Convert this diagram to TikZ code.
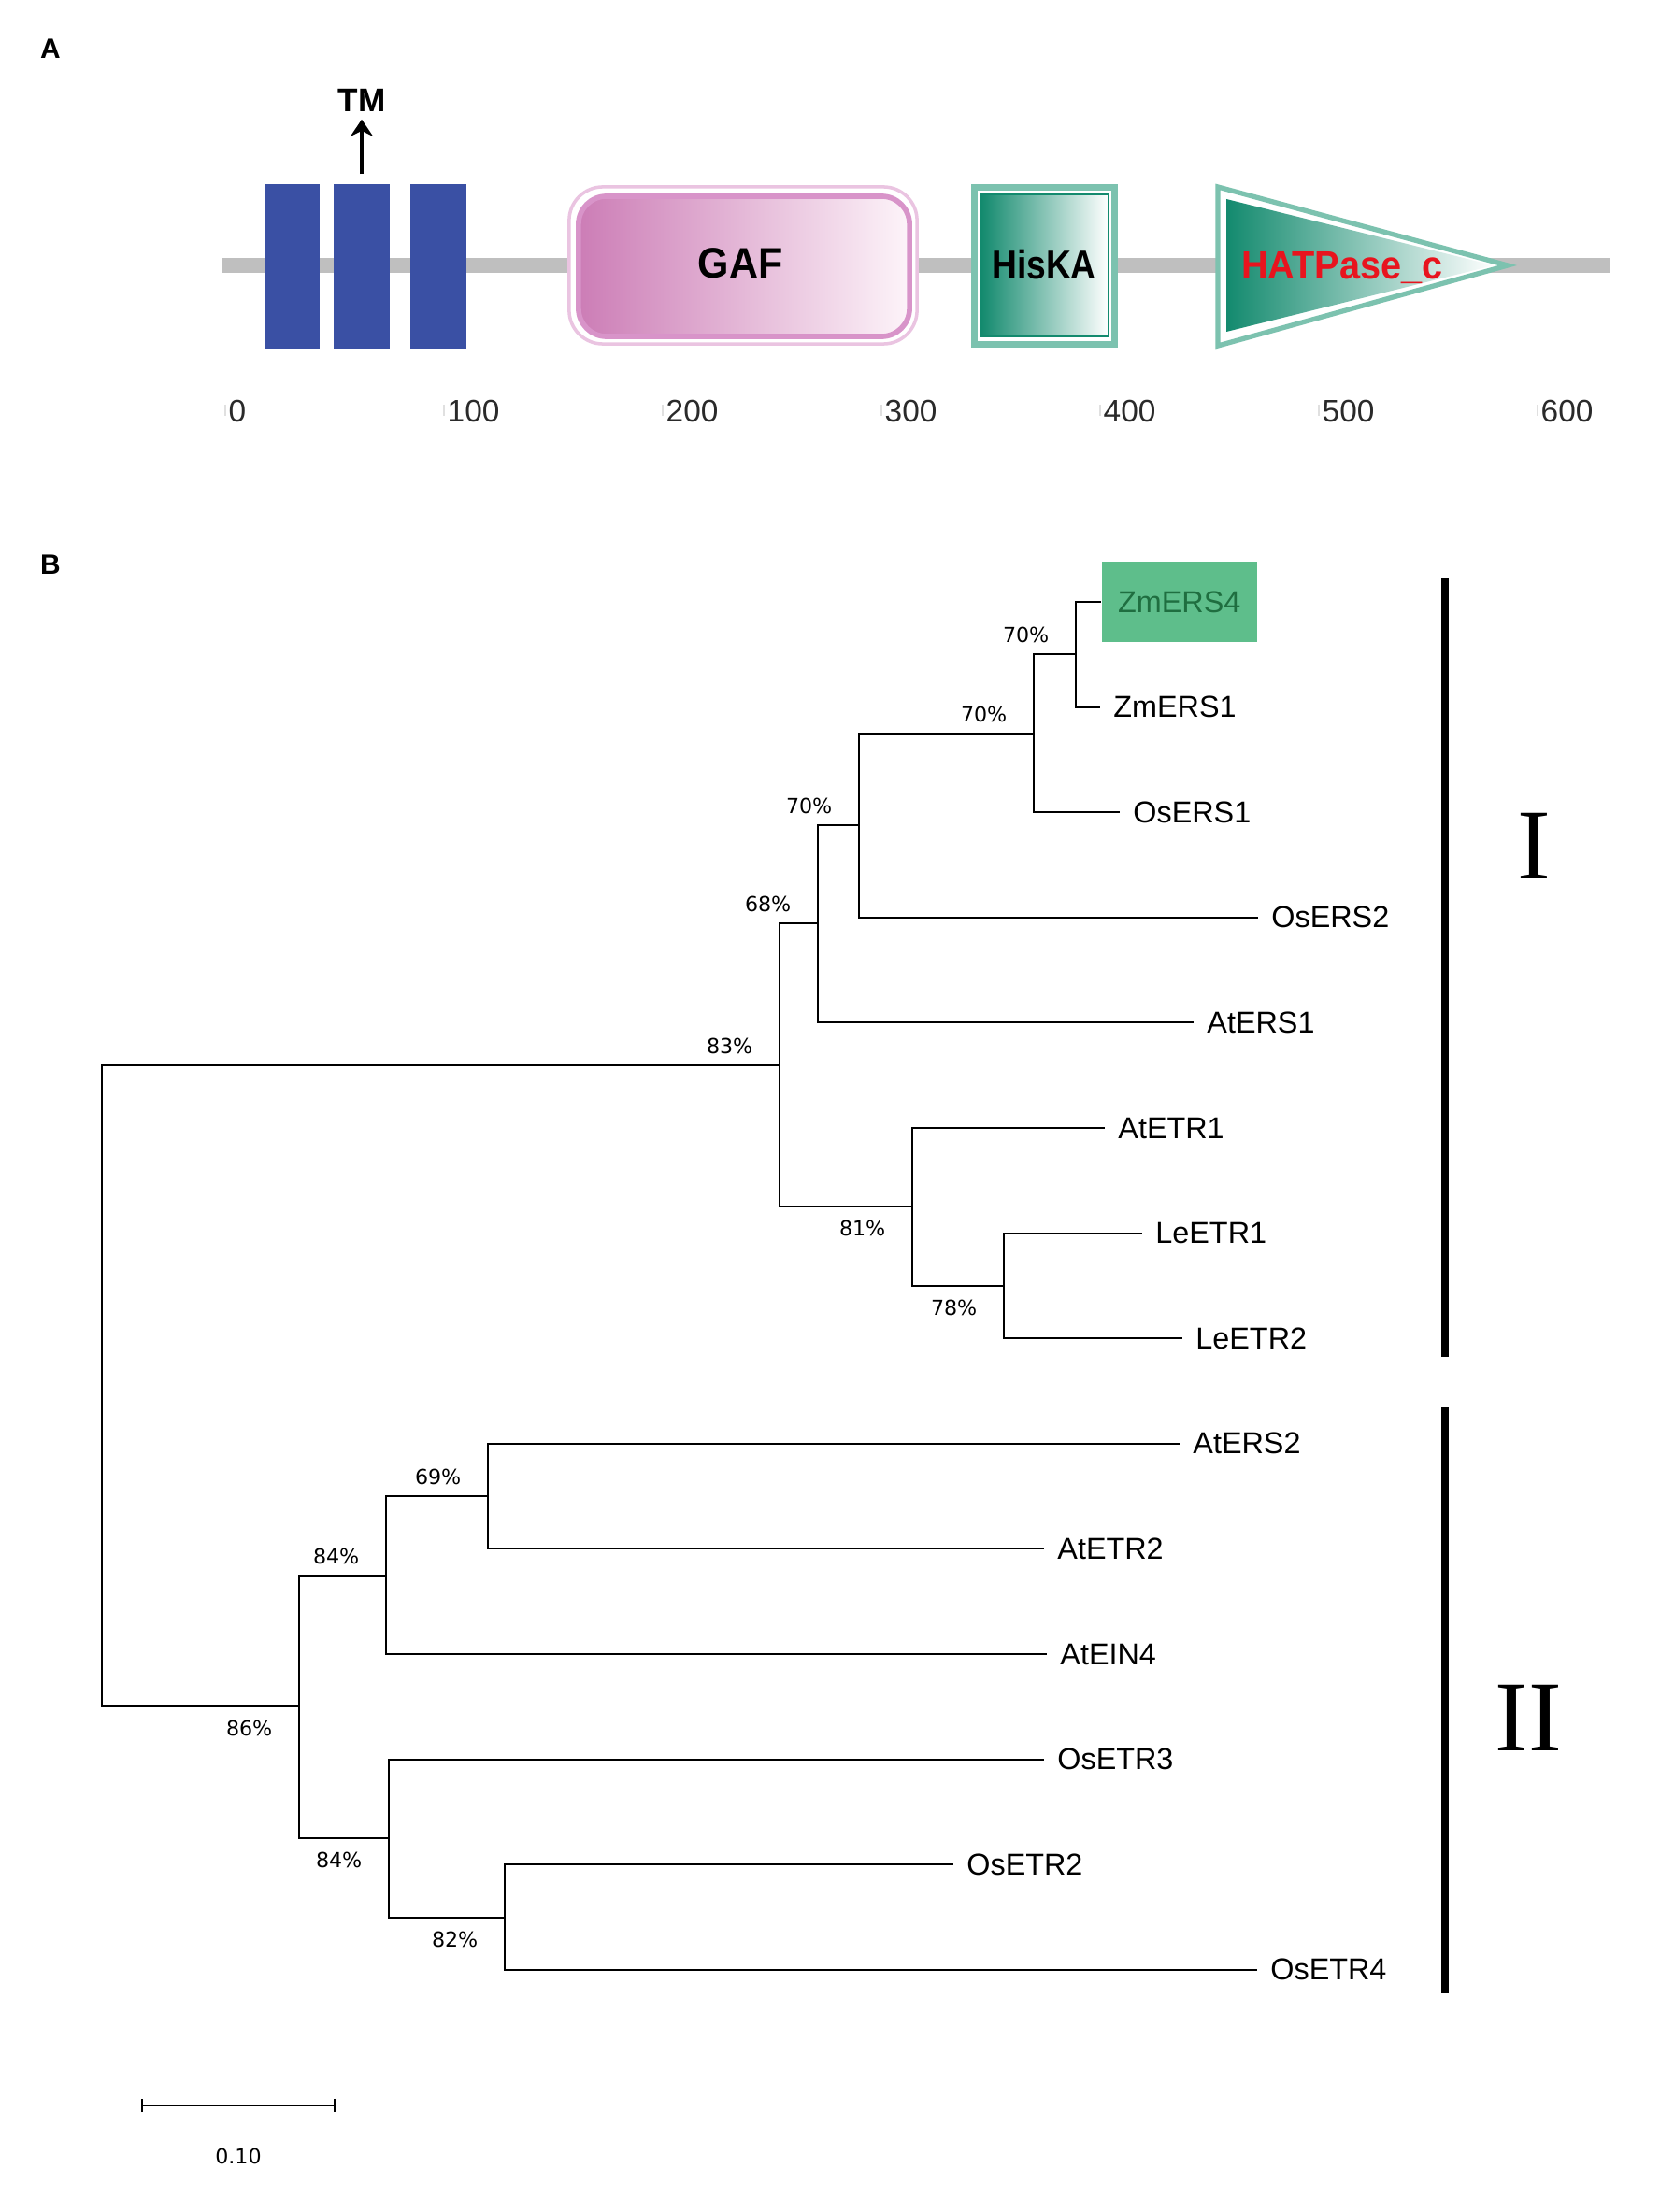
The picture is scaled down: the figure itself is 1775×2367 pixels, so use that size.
\documentclass[tikz,border=0pt]{standalone}
\usepackage{fontspec}
\setmainfont{Liberation Sans}
\newfontfamily\bootfont{DejaVu Sans}
\newfontfamily\roemfont{Liberation Serif}
\usepackage{tikz}
\usetikzlibrary{arrows.meta,positioning}
\definecolor{tmblau}{HTML}{3A50A4}
\definecolor{rueck}{HTML}{BFBFBF}
\definecolor{gafrand}{HTML}{D894C9}
\definecolor{gafdunkel}{HTML}{CC7DB6}
\definecolor{gafhell}{HTML}{FDF4F9}
\definecolor{tuerkis}{HTML}{138A6E}
\definecolor{tuerkisl}{HTML}{7CC2AF}
\definecolor{hatrot}{HTML}{E8141E}
\definecolor{gruenbox}{HTML}{5EBE8B}
\definecolor{gruentext}{HTML}{1F6E40}
\definecolor{zahl}{HTML}{2A2A2A}
\tikzset{
  panel/.style={font=\fontsize{8.5}{10}\selectfont\bfseries,inner sep=0pt},
  rueckgrat/.style={rueck,line width=4.55pt},
  tmbox/.style={fill=tmblau,minimum width=0.59cm,minimum height=1.76cm,inner sep=0pt},
  tmlab/.style={font=\fontsize{10}{12}\selectfont\bfseries,inner sep=0pt},
  pfeil/.style={-{Stealth[length=1.8mm,width=2.4mm]},line width=0.9pt,shorten <=0.1cm,shorten >=0.08cm},
  domtext/.style={font=\fontsize{13}{15}\selectfont\bfseries,inner sep=0pt},
  skala/.style={font=\fontsize{9.5}{11}\selectfont,text=zahl,anchor=west,inner sep=0pt},
  strich/.style={black!12,line width=0.5pt},
  ast/.style={line width=0.6pt,line join=miter},
  blatt/.style={font=\fontsize{9.2}{11}\selectfont,anchor=west,inner xsep=3.9pt,inner ysep=0pt},
  markiert/.style={font=\fontsize{9.2}{11}\selectfont,anchor=west,fill=gruenbox,text=gruentext,
    minimum width=1.66cm,minimum height=0.86cm,inner sep=0pt},
  boot/.style={font=\bootfont\fontsize{6.3}{7.5}\selectfont,inner sep=0pt},
  klade/.style={line width=2.3pt},
  roem/.style={font=\roemfont\fontsize{30.5}{34}\selectfont,inner sep=0pt},
  massstab/.style={{Bar[width=4pt]}-{Bar[width=4pt]},line width=0.6pt},
}

\begin{document}
\begin{tikzpicture}[x=0.01cm,y=-0.01cm]
  \useasboundingbox[fill=white] (0,0) rectangle (1775,2367);
  % A: domain structure
  \node[panel] (labA) at (54,52) {A};
  \draw[rueckgrat] (237,284) -- (1723,284);
  \foreach \xm [count=\k] in {312.5,387,469}
    \node[tmbox] (tm\k) at (\xm,285) {};
  \node[tmlab] (tmtext) at (387,107) {TM};
  \draw[pfeil] (tm2.north) -- (tmtext.south);
  \node[draw=gafrand!55,line width=1pt,fill=white,rounded corners=0.36cm,
    minimum width=3.72cm,minimum height=1.68cm] (gafrahmen) at (795,284) {};
  \node[draw=gafrand,line width=1.6pt,left color=gafdunkel,right color=gafhell,rounded corners=0.3cm,
    minimum width=3.54cm,minimum height=1.50cm] (gafbox) at (796,285) {};
  \node[domtext,xscale=0.94] (gaf) at (792,282) {GAF};
  \node[draw=tuerkisl,line width=2pt,fill=white,minimum width=1.50cm,minimum height=1.68cm] (hisrahmen) at (1117.5,284.5) {};
  \node[draw=tuerkis,line width=0.8pt,left color=tuerkis,right color=white,
    minimum width=1.36cm,minimum height=1.52cm] (hisbox) at (1118,284) {};
  \node[domtext,font=\fontsize{12.3}{14}\selectfont\bfseries,xscale=0.86] (hiska) at (1117,283) {HisKA};
  \draw[tuerkisl,line width=1.5pt,fill=white] (1303,200) -- (1613,284) -- (1303,370) -- cycle;
  \shade[left color=tuerkis,right color=white] (1312,213) -- (1598,284) -- (1312,355) -- cycle;
  \node[domtext,font=\fontsize{12}{14}\selectfont\bfseries,text=hatrot,xscale=0.94] (hat) at (1436,287) {HATPase\_c};
  \foreach \w [count=\k from 0] in {0,100,...,600} {
    \draw[strich] ({241+234*\k},433) -- ({241+234*\k},445);
    \node[skala] (s\w) at ({244+234*\k},440) {\w};
  }

  % B: tree
  \node[panel] (labB) at (54,604) {B};
  \node[markiert] (ZmERS4) at (1178,644) {ZmERS4};
  \foreach \nm/\lx [count=\i] in {ZmERS1/1177,OsERS1/1198,OsERS2/1346,AtERS1/1277,AtETR1/1182,
      LeETR1/1222,LeETR2/1265,AtERS2/1262,AtETR2/1117,AtEIN4/1120,OsETR3/1117,OsETR2/1020,OsETR4/1345}
    \node[blatt] (\nm) at (\lx,{644+112.6*\i}) {\nm};
  \coordinate (wurzel) at (109,1483);
  \coordinate (k83) at (834,1140);
  \coordinate (k68) at (875,988);
  \coordinate (k70a) at (919,883);
  \coordinate (k70b) at (1106,785);
  \coordinate (k70c) at (1151,700);
  \coordinate (k81) at (976,1291);
  \coordinate (k78) at (1074,1376);
  \coordinate (k86) at (320,1826);
  \coordinate (k84a) at (413,1686);
  \coordinate (k69) at (522,1601);
  \coordinate (k84b) at (416,1967);
  \coordinate (k82) at (540,2052);
  \foreach \a/\b in {wurzel/k83,wurzel/k86,k83/k68,k83/k81,k68/k70a,k68/AtERS1,k70a/k70b,k70a/OsERS2,
      k70b/k70c,k70b/OsERS1,k70c/ZmERS4,k70c/ZmERS1,k81/AtETR1,k81/k78,k78/LeETR1,k78/LeETR2,
      k86/k84a,k86/k84b,k84a/k69,k84a/AtEIN4,k69/AtERS2,k69/AtETR2,k84b/OsETR3,k84b/k82,
      k82/OsETR2,k82/OsETR4}
    \draw[ast] (\a) |- (\b);
  % bootstrap values
  \foreach \k/\w in {k70c/70,k70b/70,k70a/70,k68/68,k83/83,k69/69,k84a/84}
    \node[boot,above left=0.11cm and 0.28cm of \k] (b\k) {\w\%};
  \foreach \k/\w in {k81/81,k78/78,k86/86,k84b/84,k82/82}
    \node[boot,below left=0.14cm and 0.28cm of \k] (b\k) {\w\%};
  % clades
  \coordinate (k1o) at (1546,619);
  \coordinate (k1u) at (1546,1452);
  \coordinate (k2o) at (1546,1506);
  \coordinate (k2u) at (1546,2133);
  \draw[klade] (k1o) -- (k1u);
  \draw[klade] (k2o) -- (k2u);
  \node[roem] (rI) at (1641,905) {I};
  \node[roem] (rII) at (1635,1838) {II};
  % scale bar
  \coordinate (sbl) at (151,2253);
  \coordinate (sbr) at (359,2253);
  \draw[massstab] (sbl) -- node[boot,below=0.45cm] (sblab) {0.10} (sbr);
\end{tikzpicture}
\end{document}
